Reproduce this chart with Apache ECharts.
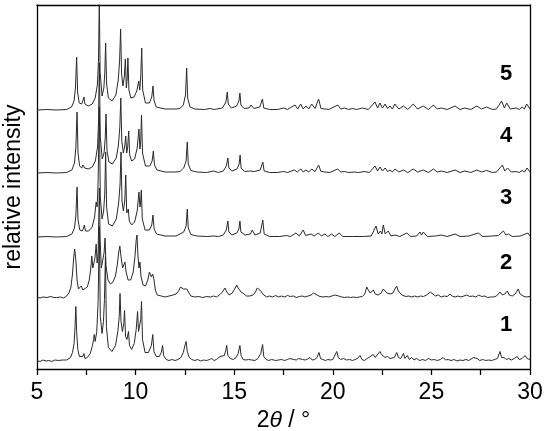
<!DOCTYPE html>
<html>
<head>
<meta charset="utf-8">
<script src="https://cdn.jsdelivr.net/npm/echarts@6/dist/echarts.min.js"></script>
<style>
  html, body { margin: 0; padding: 0; background: #fff; }
  #main { width: 550px; height: 431px; }
</style>
</head>
<body>
<div id="main"></div>
<script>
// XRD patterns 1-5, [2theta, intensity above own baseline]
const trace1 = [[5,1],[5.15,0],[5.3,1.5],[5.45,0.5],[5.6,1],[5.75,0],[5.9,1.5],[6,0],[6.1,1],[6.2,0],[6.3,1.5],[6.4,0.5],[6.5,1.5],[6.6,2],[6.7,4],[6.8,9],[6.88,18],[6.93,35],[6.97,55],[7.01,30],[7.07,12],[7.15,5],[7.24,3],[7.32,5],[7.38,8],[7.43,3],[7.55,4],[7.7,8],[7.8,15],[7.87,22],[7.9,27],[7.95,20],[8.03,30],[8.1,60],[8.16,135],[8.21,45],[8.3,28],[8.37,40],[8.42,62],[8.47,105],[8.52,35],[8.62,14],[8.8,10],[8.98,16],[9.1,30],[9.17,45],[9.21,68],[9.26,40],[9.33,30],[9.4,38],[9.44,51],[9.49,25],[9.56,22],[9.64,30],[9.69,16],[9.8,12],[9.93,18],[10.03,32],[10.1,50],[10.15,30],[10.22,32],[10.26,42],[10.3,60],[10.35,22],[10.48,9],[10.65,9],[10.8,16],[10.87,27],[10.93,10],[11.05,5],[11.2,5],[11.3,9],[11.37,16],[11.42,6],[11.55,2],[11.7,1],[11.85,2],[12,1],[12.15,2],[12.3,4],[12.42,9],[12.5,16],[12.56,20],[12.62,10],[12.72,4],[12.85,2],[13,1],[13.15,2],[13.3,0.5],[13.45,1.5],[13.6,1],[13.75,2],[13.86,3],[13.98,1],[14.1,2],[14.2,3],[14.28,5],[14.38,3],[14.5,6],[14.57,11],[14.62,16],[14.68,6],[14.8,3],[14.95,2],[15.1,4],[15.2,8],[15.29,16],[15.35,6],[15.45,2],[15.6,1.5],[15.72,2],[15.8,4],[15.9,1.5],[16.05,1],[16.2,3],[16.35,8],[16.44,17],[16.5,5],[16.62,2],[16.75,1],[16.9,2],[17,3],[17.1,1],[17.25,1.5],[17.4,2],[17.55,1],[17.7,2],[17.82,3],[17.92,5],[18.02,2],[18.15,1.5],[18.27,3],[18.37,5],[18.47,2],[18.6,1.5],[18.72,2.5],[18.84,4],[18.95,1.5],[19.08,2],[19.2,4],[19.3,9],[19.38,3],[19.5,2],[19.62,1],[19.75,2],[19.88,1.5],[20,2],[20.1,4],[20.2,10],[20.28,4],[20.4,2],[20.55,3],[20.7,1.5],[20.85,2],[21,1],[21.12,2],[21.25,3],[21.38,6],[21.48,2],[21.6,1],[21.75,3],[21.9,5],[22.05,7],[22.15,4],[22.25,6],[22.39,10],[22.47,7],[22.55,8],[22.65,4],[22.78,5],[22.9,3],[23,2],[23.12,4],[23.24,9],[23.33,4],[23.45,3],[23.58,8],[23.66,3],[23.78,6],[23.88,2],[24,4],[24.12,1.5],[24.25,3],[24.4,1],[24.55,2],[24.7,1],[24.85,3],[25,1.5],[25.15,2],[25.3,1],[25.45,2],[25.6,4],[25.72,1.5],[25.85,2],[26,1],[26.15,2],[26.3,0.5],[26.45,1.5],[26.6,1],[26.75,2],[26.9,1],[27,2],[27.13,4],[27.22,2],[27.32,3],[27.45,1],[27.6,2],[27.75,1],[27.9,1.5],[28.05,1],[28.2,2],[28.35,3],[28.48,10],[28.56,4],[28.68,4],[28.8,2],[28.92,3],[29.05,1.5],[29.2,3],[29.35,5],[29.45,2],[29.6,3],[29.75,6],[29.85,3],[29.95,4],[30,2]];

const trace2 = [[5,1],[5.15,0],[5.3,1],[5.5,0.5],[5.7,1.5],[5.85,0.5],[6,0.5],[6.2,1],[6.35,0],[6.5,2],[6.62,5],[6.72,11],[6.8,24],[6.86,40],[6.91,49],[6.97,38],[7.03,18],[7.1,9],[7.18,9],[7.24,12],[7.28,13],[7.33,8],[7.42,7],[7.55,11],[7.65,18],[7.72,28],[7.78,42],[7.83,30],[7.88,28],[7.94,40],[8,54],[8.05,35],[8.1,45],[8.16,110],[8.2,60],[8.26,30],[8.34,32],[8.4,45],[8.45,60],[8.5,32],[8.6,18],[8.72,14],[8.85,16],[8.98,22],[9.07,33],[9.14,45],[9.2,52],[9.27,40],[9.34,30],[9.41,32],[9.46,36],[9.52,26],[9.62,18],[9.75,18],[9.88,26],[9.97,42],[10.03,58],[10.07,63],[10.12,42],[10.17,30],[10.22,36],[10.27,22],[10.38,13],[10.5,12],[10.62,18],[10.7,26],[10.75,27],[10.8,21],[10.86,24],[10.92,20],[11,8],[11.1,3],[11.3,2],[11.5,1],[11.7,2],[11.9,3],[12.05,4],[12.18,7],[12.28,11],[12.34,12],[12.42,9],[12.5,8],[12.6,9],[12.68,6],[12.8,2],[13,1],[13.2,1.5],[13.4,0.5],[13.6,1.5],[13.8,1],[13.95,2],[14.1,1],[14.25,3],[14.4,6],[14.53,10],[14.63,6],[14.75,3],[14.9,5],[15.05,10],[15.13,13],[15.2,10],[15.27,12],[15.35,6],[15.5,4],[15.62,2],[15.8,2],[15.95,3],[16.08,6],[16.17,10],[16.22,12],[16.3,8],[16.39,8],[16.5,3],[16.65,1],[16.8,2],[16.95,1],[17.1,2.5],[17.25,1],[17.4,2],[17.55,1],[17.7,2.5],[17.85,1.5],[18,2],[18.15,0.5],[18.3,1.5],[18.45,2],[18.6,1],[18.75,2],[18.9,3],[19.02,5],[19.1,7],[19.2,3],[19.35,1.5],[19.5,1],[19.65,1.5],[19.8,1],[19.95,2],[20.1,3],[20.2,5],[20.3,2],[20.45,1],[20.6,0.5],[20.75,1],[20.9,0.5],[21.05,1],[21.2,0.5],[21.35,1],[21.5,1.5],[21.62,4],[21.72,11],[21.8,8],[21.9,5],[22,6],[22.06,8],[22.15,4],[22.3,3],[22.45,5],[22.56,9],[22.65,7],[22.75,5],[22.9,4],[23.05,5],[23.15,9],[23.24,12],[23.32,7],[23.4,6],[23.5,3],[23.58,4],[23.7,1.5],[23.85,2],[24,1],[24.15,2],[24.3,1],[24.45,2],[24.6,1.5],[24.75,3],[24.85,4],[24.95,6],[25.05,4],[25.2,2],[25.35,3],[25.5,1],[25.65,2],[25.8,1.5],[25.94,4],[26.05,2],[26.2,1],[26.35,2],[26.5,1],[26.65,2],[26.79,3],[26.95,1.5],[27.1,2],[27.25,1],[27.4,3],[27.55,1.5],[27.7,2],[27.85,0.5],[28,1],[28.15,1],[28.3,2],[28.48,6],[28.6,3],[28.72,4],[28.85,7],[28.95,3],[29.1,2],[29.25,4],[29.4,9],[29.5,4],[29.65,2],[29.8,1],[30,1.5]];

const trace3 = [[5,0],[5.5,0.5],[6,0],[6.5,0.5],[6.77,3],[6.9,9],[6.97,21],[7.03,50],[7.08,17],[7.17,7],[7.3,6],[7.36,9],[7.4,12],[7.46,6],[7.62,6],[7.8,10],[7.92,20],[8,35],[8.05,30],[8.1,55],[8.16,130],[8.21,40],[8.3,18],[8.38,26],[8.44,45],[8.48,85],[8.53,30],[8.63,13],[8.82,11],[9.02,18],[9.14,34],[9.21,52],[9.26,85],[9.31,36],[9.38,26],[9.45,36],[9.5,62],[9.55,24],[9.59,22],[9.63,28],[9.68,16],[9.8,12],[9.95,15],[10.08,26],[10.17,45],[10.22,30],[10.25,34],[10.29,47],[10.34,18],[10.48,7],[10.7,7],[10.82,12],[10.88,22],[10.94,8],[11.06,3],[11.5,1],[12.05,1],[12.44,5],[12.56,11],[12.62,28],[12.67,9],[12.8,2.5],[13.1,1],[13.6,0.5],[13.95,1],[14.2,0.5],[14.45,2],[14.6,7],[14.68,16],[14.73,5],[14.88,2],[15.13,4],[15.24,8],[15.29,16],[15.34,5],[15.55,2],[15.82,3],[15.92,7],[16.05,2],[16.32,4],[16.45,17],[16.52,3],[16.8,0.5],[17.3,0.5],[17.66,1.5],[17.85,0.5],[18.13,4],[18.3,1],[18.5,7],[18.62,1.5],[18.9,3],[19.05,1],[19.27,4],[19.42,1],[19.6,3],[19.75,0.5],[19.94,3],[20.1,0.5],[20.33,4],[20.5,0.5],[21,0.5],[21.5,0.5],[21.95,1],[22.19,11],[22.3,3],[22.42,6],[22.49,3],[22.56,12],[22.66,3],[22.81,6],[22.95,1],[23.15,2],[23.4,0.5],[23.75,4],[23.95,0.5],[24.25,1],[24.42,5],[24.5,2],[24.59,5],[24.8,0.5],[25.2,1],[25.5,2],[25.8,0.5],[26.2,3],[26.45,0.5],[26.9,1],[27.38,4],[27.6,0.5],[28.1,1],[28.4,1.5],[28.65,6],[28.78,2],[28.9,3],[29.1,0.5],[29.5,1],[29.9,4],[30,1]];

const trace4 = [[5,0],[5.5,0.5],[6,0],[6.5,0.5],[6.77,3],[6.9,10],[6.97,25],[7.03,61],[7.08,20],[7.16,7],[7.27,5],[7.32,8],[7.36,10],[7.42,5],[7.6,4],[7.8,6],[7.96,12],[8.07,26],[8.12,50],[8.16,110],[8.21,36],[8.31,14],[8.4,20],[8.46,35],[8.5,59],[8.55,22],[8.65,11],[8.82,9],[9.02,15],[9.13,28],[9.2,46],[9.25,75],[9.3,32],[9.38,20],[9.45,27],[9.5,37],[9.55,20],[9.6,26],[9.65,42],[9.7,18],[9.8,12],[9.95,14],[10.08,25],[10.17,44],[10.22,24],[10.26,32],[10.3,58],[10.35,20],[10.5,7],[10.72,7],[10.84,12],[10.9,22],[10.96,8],[11.08,3],[11.5,1],[12.05,1],[12.15,2],[12.25,1.5],[12.44,5],[12.56,12],[12.62,31],[12.67,9],[12.8,2.5],[13.1,1],[13.6,0.5],[13.95,2],[14.2,0.5],[14.45,2],[14.6,7],[14.68,15],[14.73,5],[14.88,2],[15.14,4],[15.25,9],[15.3,18],[15.35,5],[15.52,1.5],[15.78,2],[15.88,4],[16.02,1.5],[16.32,3],[16.45,11],[16.52,2],[16.8,0.5],[17.2,0.5],[17.5,1.5],[17.7,0.5],[18.05,3],[18.2,1],[18.37,4],[18.5,1],[18.64,3],[18.78,1],[18.93,4],[19.1,1.5],[19.28,8],[19.4,1.5],[19.6,1],[19.85,0.5],[20.25,4],[20.4,1],[20.6,1.5],[20.8,0.5],[21.1,1],[21.3,0.5],[21.6,1.5],[21.85,0.5],[22.14,7],[22.27,2],[22.39,6],[22.52,2],[22.65,5],[22.78,1.5],[22.9,3],[23.02,1],[23.15,4],[23.35,1],[23.58,3],[23.8,0.5],[24.08,4],[24.3,1],[24.59,3],[24.85,0.5],[25.1,4],[25.3,1],[25.5,2],[25.8,0.5],[26.2,3],[26.45,0.5],[26.7,2],[27,0.5],[27.3,3],[27.55,1],[27.8,2.5],[28.1,0.5],[28.3,1],[28.6,8],[28.72,2],[28.86,5],[29.05,1],[29.3,1.5],[29.45,0.5],[29.6,2.5],[29.72,1],[29.85,5],[30,1]];

const trace5 = [[5,0],[5.5,0.5],[6,0],[6.5,0.5],[6.75,3],[6.88,9],[6.95,22],[7.01,53],[7.06,18],[7.14,7],[7.26,6],[7.34,10],[7.38,13],[7.43,6],[7.6,4],[7.8,6],[7.95,12],[8.06,25],[8.12,50],[8.16,112],[8.2,38],[8.3,14],[8.39,22],[8.44,38],[8.48,67],[8.53,26],[8.62,12],[8.8,9],[9,15],[9.12,30],[9.19,50],[9.24,81],[9.29,36],[9.36,24],[9.43,34],[9.48,51],[9.53,22],[9.57,30],[9.61,52],[9.66,20],[9.76,12],[9.92,13],[10.06,19],[10.16,29],[10.21,20],[10.26,33],[10.31,62],[10.36,20],[10.5,7],[10.7,7],[10.82,13],[10.88,24],[10.94,9],[11.05,3],[11.5,1],[12.05,1],[12.15,2],[12.25,1.5],[12.42,5],[12.53,15],[12.59,42],[12.64,12],[12.76,3],[13,1],[13.5,0.5],[13.77,1.5],[14,0.5],[14.4,2],[14.58,8],[14.65,18],[14.7,6],[14.85,2],[15.12,4],[15.24,9],[15.29,17],[15.34,5],[15.5,1.5],[15.75,2],[15.85,5],[16,1.5],[16.3,3],[16.43,11],[16.5,2],[16.8,0.5],[17.2,0.5],[17.5,2],[17.7,0.5],[18.08,5],[18.22,1],[18.37,6],[18.5,1],[18.64,4],[18.78,1],[18.93,6],[19.1,1.5],[19.28,11],[19.4,1.5],[19.6,1],[19.8,0.5],[20.25,5],[20.4,1],[20.6,2],[20.8,0.5],[21,1.5],[21.2,0.5],[21.5,2],[21.8,0.5],[22.14,8],[22.27,2],[22.39,7],[22.52,2],[22.65,6],[22.78,1.5],[22.9,4],[23.02,1],[23.15,6],[23.35,1],[23.58,4],[23.8,0.5],[24.08,6],[24.3,1],[24.59,4],[24.85,0.5],[25.1,5],[25.3,1],[25.5,2],[25.8,0.5],[26.2,4],[26.45,0.5],[26.7,2],[27,0.5],[27.3,4],[27.55,1],[27.8,3],[28.1,0.5],[28.3,1],[28.56,9],[28.7,2],[28.82,7],[29,1],[29.3,2],[29.45,0.5],[29.6,3],[29.72,1],[29.83,6],[30,1]];

const traces = [trace1, trace2, trace3, trace4, trace5];
const traceNames = ['1', '2', '3', '4', '5'];
const offsets = [7.5, 71, 132, 196, 259];   // vertical stacking of the patterns

const font = '"Liberation Sans", Arial, sans-serif';
const lineColor = '#2a2a2a';

var dom = document.getElementById('main');
var myChart = echarts.init(dom, null, { renderer: 'canvas' });

const series = traces.map(function (t, i) {
  return {
    type: 'line',
    name: traceNames[i],
    data: t.map(function (p) { return [p[0], p[1] + offsets[i]]; }),
    showSymbol: false,
    clip: true,
    lineStyle: { color: lineColor, width: 1 },
    silent: true
  };
});

// trace numbers on the right
const labelY = [325, 263, 198, 136, 74];
const graphics = traceNames.map(function (n, i) {
  return {
    type: 'text',
    x: 506,
    y: labelY[i],
    style: {
      text: n,
      font: 'bold 22px ' + font,
      fill: '#000',
      textAlign: 'center',
      textVerticalAlign: 'middle'
    }
  };
});

var option = {
  backgroundColor: '#fff',
  animation: false,
  grid: { left: 37, right: 20, top: 5, bottom: 62, outerBoundsMode: 'none', containLabel: false },
  xAxis: [
    {
      type: 'value',
      min: 5,
      max: 30,
      interval: 2.5,
      position: 'bottom',
      name: '2{i|θ} / °',
      nameLocation: 'middle',
      nameGap: 37,
      nameTextStyle: {
        fontSize: 23,
        fontFamily: font,
        color: '#000',
        rich: { i: { fontStyle: 'italic', fontSize: 23, fontFamily: font, color: '#000' } }
      },
      axisLine: { show: true, lineStyle: { color: '#000', width: 1.3 } },
      axisTick: { show: true, length: 6, lineStyle: { color: '#000', width: 1.3 } },
      axisLabel: {
        fontSize: 23,
        fontFamily: font,
        color: '#000',
        margin: 12,
        formatter: function (v) { return v % 5 === 0 ? String(v) : ''; }
      },
      splitLine: { show: false }
    },
    {
      type: 'value',
      min: 5,
      max: 30,
      position: 'top',
      axisLine: { show: true, onZero: false, lineStyle: { color: '#000', width: 1.3 } },
      axisTick: { show: false },
      axisLabel: { show: false },
      splitLine: { show: false }
    }
  ],
  yAxis: [
    {
      type: 'value',
      min: 0,
      max: 364,
      position: 'left',
      name: 'relative intensity',
      nameLocation: 'middle',
      nameGap: 12,
      nameTextStyle: { fontSize: 23, fontFamily: font, color: '#000' },
      axisLine: { show: true, onZero: false, lineStyle: { color: '#000', width: 1.3 } },
      axisTick: { show: false },
      axisLabel: { show: false },
      splitLine: { show: false }
    },
    {
      type: 'value',
      min: 0,
      max: 364,
      position: 'right',
      axisLine: { show: true, onZero: false, lineStyle: { color: '#000', width: 1.3 } },
      axisTick: { show: false },
      axisLabel: { show: false },
      splitLine: { show: false }
    }
  ],
  graphic: graphics,
  series: series
};

myChart.setOption(option);
window.addEventListener('resize', myChart.resize);
</script>
</body>
</html>
